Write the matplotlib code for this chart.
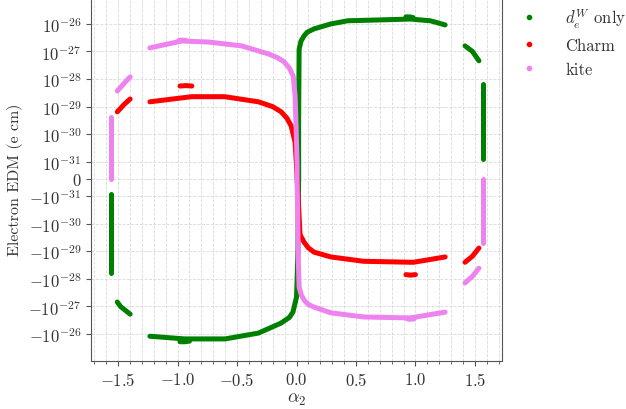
import matplotlib
matplotlib.use("Agg")
import matplotlib.pyplot as plt
from matplotlib.lines import Line2D
from matplotlib.ticker import MultipleLocator, NullLocator, FixedLocator

plt.rcParams['font.family'] = 'serif'
plt.rcParams['font.serif'] = ['cmr10', 'DejaVu Serif']
plt.rcParams['mathtext.fontset'] = 'cm'
plt.rcParams['axes.formatter.use_mathtext'] = True
plt.rcParams['axes.unicode_minus'] = True

# ---- data (alpha_2, electron EDM in e cm) ----
labels = ["$d_e^W$ only", "Charm", "kite"]
colors = ["green", "red", "violet"]
y_ticks = [-1e-26, -1e-27, -1e-28, -1e-29, -1e-30, -1e-31, 0.0,
           1e-31, 1e-30, 1e-29, 1e-28, 1e-27, 1e-26]

# d_e^W only
green_x = [
    [-1.233, -0.94, -0.60, -0.32, -0.13, -0.06, -0.03, 0.0, 0.005, 0.012, 0.015, 0.018,
     0.018, 0.022, 0.038, 0.064, 0.09, 0.147, 0.289, 0.431, 0.707, 0.958, 1.125, 1.25],
    [0.92, 0.95, 0.98],
    [-0.98, -0.94, -0.90],
    [1.417, 1.48, 1.534],
    [-1.399, -1.48, -1.507],
    [1.572, 1.572],
    [-1.562, -1.562],
]
green_y = [
    [-1.2e-26, -1.5e-26, -1.5e-26, -9.2e-27, -4.0e-27, -2.5e-27, -1.6e-27, -4.6e-28,
     -1.1e-28, -9.1e-30, -1.4e-31, 0.0, 3.6e-30, 1.2e-27, 2.4e-27, 3.7e-27, 5.0e-27,
     6.6e-27, 1.0e-26, 1.3e-26, 1.4e-26, 1.5e-26, 1.3e-26, 9.2e-27],
    [1.8e-26, 1.8e-26, 1.7e-26],
    [-1.9e-26, -1.9e-26, -1.8e-26],
    [1.6e-27, 1.0e-27, 4.6e-28],
    [-1.9e-27, -1.0e-27, -6.9e-28],
    [6.7e-29, 1.3e-31],
    [-6.2e-29, -9.0e-32],
]

# Charm
red_x = [
    [-1.233, -0.882, -0.605, -0.32, -0.20, -0.129, -0.08, -0.045, -0.012, 0.0, 0.005,
     0.015, 0.025, 0.03, 0.064, 0.10, 0.147, 0.289, 0.565, 0.983, 1.25],
    [-0.98, -0.93, -0.88],
    [0.92, 0.96, 1.0],
    [-1.507, -1.45, -1.399],
    [1.417, 1.48, 1.534],
]
red_y = [
    [1.5e-29, 2.3e-29, 2.3e-29, 1.5e-29, 1.0e-29, 6.5e-30, 3.8e-30, 2.0e-30, 5.2e-31,
     8.0e-32, 0.0, -1.4e-31, -1.0e-30, -2.5e-30, -4.7e-30, -7.5e-30, -1.07e-29,
     -1.6e-29, -2.3e-29, -2.5e-29, -1.6e-29],
    [5.6e-29, 5.8e-29, 5.6e-29],
    [-7.0e-29, -7.3e-29, -7.0e-29],
    [6.5e-30, 1.2e-29, 1.9e-29],
    [-2.5e-29, -1.5e-29, -7.6e-30],
]

# kite
pink_x = [
    [-1.233, -0.965, -0.739, -0.463, -0.237, -0.16, -0.104, -0.06, -0.028, -0.012,
     -0.003, 0.005, 0.005, 0.01, 0.015, 0.022, 0.04, 0.064, 0.10, 0.147, 0.289, 0.565,
     0.958, 1.25],
    [-0.99, -0.96, -0.93],
    [0.93, 0.96, 0.99],
    [-1.507, -1.45, -1.399],
    [1.417, 1.48, 1.534],
    [-1.562, -1.562],
    [1.572, 1.572],
]
pink_y = [
    [1.35e-27, 2.4e-27, 2.2e-27, 1.6e-27, 8.2e-28, 6.0e-28, 4.2e-28, 2.5e-28, 1.3e-28,
     2.5e-29, 1.6e-30, 8.0e-32, 0.0, -4.9e-31, -2.1e-29, -2.0e-28, -3.8e-28, -5.9e-28,
     -8.5e-28, -1.05e-27, -1.7e-27, -2.4e-27, -2.6e-27, -1.6e-27],
    [2.5e-27, 2.6e-27, 2.5e-27],
    [-2.8e-27, -2.9e-27, -2.8e-27],
    [3.7e-29, 7.0e-29, 1.2e-28],
    [-1.4e-28, -8.0e-29, -4.1e-29],
    [4.3e-30, 0.0],
    [0.0, -5.0e-30],
]

series_x = [green_x, red_x, pink_x]
series_y = [green_y, red_y, pink_y]

fig = plt.figure(figsize=(6.26, 4.10), dpi=100)
ax = fig.add_axes([0.1454, 0.117, 0.6565, 0.888])

for xs, ys, c in zip(series_x, series_y, colors):
    for sx, sy in zip(xs, ys):
        ax.plot(sx, sy, color=c, lw=3.6, solid_capstyle='round',
                solid_joinstyle='round')

ax.set_yscale('symlog', linthresh=1e-31, linscale=0.56)
ax.set_ylim(-9.5e-26, 9.5e-26)
ax.set_xlim(-1.728, 1.728)
ax.yaxis.set_major_locator(FixedLocator(y_ticks))
ax.yaxis.set_minor_locator(NullLocator())
ax.xaxis.set_major_locator(MultipleLocator(0.5))
ax.xaxis.set_minor_locator(MultipleLocator(0.1))

ax.grid(True, which='both', axis='x', ls='--', lw=0.6, color='#d9d9d9')
ax.grid(True, which='major', axis='y', ls='--', lw=0.6, color='#d9d9d9')
ax.set_axisbelow(True)
for s in ax.spines.values():
    s.set_color('#555555')
    s.set_linewidth(0.8)
ax.tick_params(which='both', colors='#555555', labelcolor='#333333', labelsize=12)
ax.tick_params(which='minor', length=2.5)

ax.set_xlabel(r'$\alpha_2$', fontsize=13, color='#333333', labelpad=2)
ax.set_ylabel('Electron EDM (e cm)', fontsize=11.5, color='#333333')

handles = [Line2D([], [], ls='none', marker='o', ms=3, color=c) for c in colors]
ax.legend(handles, labels, loc='upper left', bbox_to_anchor=(0.988, 1.015),
          frameon=False, fontsize=12, handletextpad=1.2, labelspacing=0.5,
          labelcolor='#333333')

fig.savefig('out.png', dpi=100)
